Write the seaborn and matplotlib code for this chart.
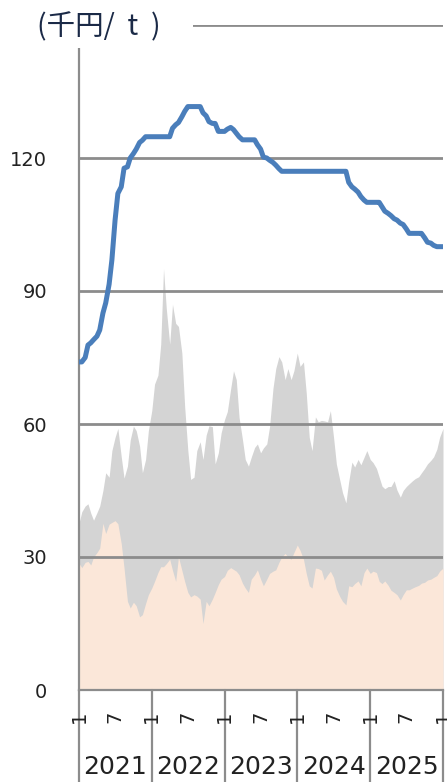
import matplotlib
matplotlib.use("Agg")
import numpy as np
import pandas as pd
import matplotlib.pyplot as plt
import matplotlib.dates as mdates
from matplotlib.patches import Rectangle
import seaborn as sns

# semi-monthly observations, Jan 2021 - Jan 2026
dates = pd.date_range("2021-01-01", "2026-01-01", freq="SMS")

# price line (thousand yen / t)
price = [74, 74, 75, 77.8, 78.3, 79, 79.8, 81.2, 85, 87.3,
         91.5, 97, 106, 112, 113.5, 117.7, 118, 120, 121, 122,
         123.5, 124, 124.8, 124.8, 124.8, 124.8, 124.8, 124.8, 124.8, 124.8,
         124.8, 126.7, 127.5, 128, 129.3, 130.5, 131.6, 131.6, 131.6, 131.6,
         131.6, 130.2, 129.5, 128.2, 127.8, 127.8, 126, 126, 126, 126.5,
         126.9, 126.4, 125.6, 124.8, 124.1, 124.1, 124.1, 124.1, 124.1, 123,
         122, 120.2, 120, 119.5, 119, 118.4, 117.6, 117, 117, 117,
         117, 117, 117, 117, 117, 117, 117, 117, 117, 117,
         117, 117, 117, 117, 117, 117, 117, 117, 117, 114.5,
         113.5, 113, 112.3, 111.3, 110.5, 110, 110, 110, 110, 110,
         109, 108, 107.5, 107, 106.3, 106, 105.3, 105, 104, 103,
         103, 103, 103, 103, 102, 101, 100.8, 100.3, 100, 100,
         100]

# grey area
upper = [37.6, 40.2, 41.5, 42, 39.9, 38.3, 40, 41.5, 45, 49,
         48, 54, 57, 59, 52.6, 47.8, 50.5, 56.4, 59.5, 58.5,
         55, 49, 52, 58.5, 63, 69, 71, 78, 95, 86,
         78, 87, 82.7, 82, 76, 64, 54, 47.5, 48, 54,
         56, 52, 57.5, 59.6, 59.4, 51, 53.5, 58, 61, 62.8,
         68, 72, 70, 61.5, 56.5, 52, 50.5, 52.5, 54.7, 55.5,
         53.5, 54.6, 55.5, 59.4, 68, 72.5, 75.2, 74, 70, 72.5,
         70, 72, 76, 73, 74, 67, 57, 54, 61.6, 60.5,
         60.8, 60.7, 60.5, 63, 57, 51, 47.4, 44.5, 42.2, 47,
         51.4, 50.3, 52, 50.8, 52.5, 54, 52, 51.3, 50, 48,
         46, 45.4, 45.9, 45.9, 47.2, 45.1, 43.5, 45, 45.9, 46.5,
         47.2, 47.7, 48.1, 49, 50, 51, 51.8, 52.6, 54.3, 57,
         59]

# peach area
lower = [28.6, 27.6, 28.8, 29, 28.2, 30, 31, 32, 37.6, 35.3,
         37.4, 37.8, 38.2, 37.5, 33, 27.5, 20, 18.5, 19.8, 19,
         16.5, 17, 19.5, 21.5, 23, 24.5, 26.5, 27.8, 27.8, 28.5,
         29.5, 27, 24.5, 30, 27, 24.5, 22, 21, 21.5, 21.2,
         20.5, 15, 20, 19, 20.5, 22, 23.8, 25, 25.6, 27,
         27.6, 27.2, 26.8, 26, 24.1, 23, 22, 25, 26, 27.1,
         25, 23.5, 25, 26.3, 26.8, 27.1, 28.8, 30, 30.8, 30,
         29.5, 31, 32.7, 31.5, 29.5, 26.3, 23.5, 23, 27.5, 27.4,
         27, 24.8, 26, 26.8, 25.4, 22.8, 21.1, 20, 19.2, 23.5,
         23.3, 24, 24.6, 23.5, 26.5, 27.5, 26.3, 26.8, 26.5, 24.5,
         24, 24.6, 23.6, 22.5, 22, 21.5, 20.3, 21.5, 22.6, 22.6,
         23, 23.3, 23.6, 24.1, 24.3, 24.8, 25, 25.4, 25.8, 26.8,
         27.5]

years = [2021, 2022, 2023, 2024, 2025]
yticks = [0, 30, 60, 90, 120, 150]
ylabels = ["0", "30", "60", "90", "120", ""]

df = pd.DataFrame({"date": dates, "price": price, "upper": upper, "lower": lower})

sns.set_style("white")
plt.rcParams["font.family"] = ["DejaVu Sans"]

fig = plt.figure(figsize=(4.47, 7.82), dpi=100)
ax = fig.add_axes([79 / 447, 92 / 782, 364 / 447, 665 / 782])

ax.fill_between(df["date"], df["upper"], color="#d4d4d4", lw=0, zorder=1)
ax.fill_between(df["date"], df["lower"], color="#fbe7d9", lw=0, zorder=1.1)
sns.lineplot(data=df, x="date", y="price", ax=ax, color="#4a7ebb", lw=3.6, zorder=3)

ax.set_xlim(pd.Timestamp("2021-01-01"), pd.Timestamp("2026-01-01"))
ax.set_ylim(0, 150)
ax.set_yticks(yticks)
ax.set_yticklabels(ylabels)
ax.yaxis.grid(True, color="#8c8c8c", lw=2)
ax.set_axisbelow(False)
ax.set_xlabel("")
ax.set_ylabel("")

for s in ["top", "right"]:
    ax.spines[s].set_visible(False)
for s in ["left", "bottom"]:
    ax.spines[s].set_color("#8c8c8c")
    ax.spines[s].set_linewidth(1.6)

ax.tick_params(axis="y", length=5, width=1.6, color="#8c8c8c", pad=18,
               labelsize=14, labelcolor="#222222")

# month ticks
mticks = []
mlabels = []
for y in years:
    mticks += [pd.Timestamp(f"{y}-01-01"), pd.Timestamp(f"{y}-07-01")]
    mlabels += ["1", "7"]
mticks.append(pd.Timestamp("2026-01-01"))
mlabels.append("1")
ax.set_xticks(mticks)
ax.set_xticklabels(mlabels, rotation=90)
ax.tick_params(axis="x", length=0, pad=15, labelsize=14, labelcolor="#222222")

# year separators and labels
trans = ax.get_xaxis_transform()
for y in years + [2026]:
    d = mdates.date2num(pd.Timestamp(f"{y}-01-01"))
    ax.plot([d, d], [0, -0.14], transform=trans, color="#8c8c8c", lw=1.6,
            clip_on=False)
for y in years:
    mid = mdates.date2num(pd.Timestamp(f"{y}-07-02"))
    ax.text(mid, -0.116, str(y), transform=trans, ha="center", va="center",
            fontsize=18, color="#222222")

# white box behind the unit label
fig.patches.append(Rectangle((0, 1 - 48 / 782), 193 / 447, 48 / 782,
                             transform=fig.transFigure, facecolor="white",
                             edgecolor="none", zorder=10))
fig.text(99 / 447, 1 - 27 / 782, "(千円/  t  )", ha="center", va="center",
         fontsize=20.5, color="#1b2a47", zorder=11,
         family=["Noto Sans CJK JP", "DejaVu Sans"])

fig.savefig("out.png", dpi=100)
